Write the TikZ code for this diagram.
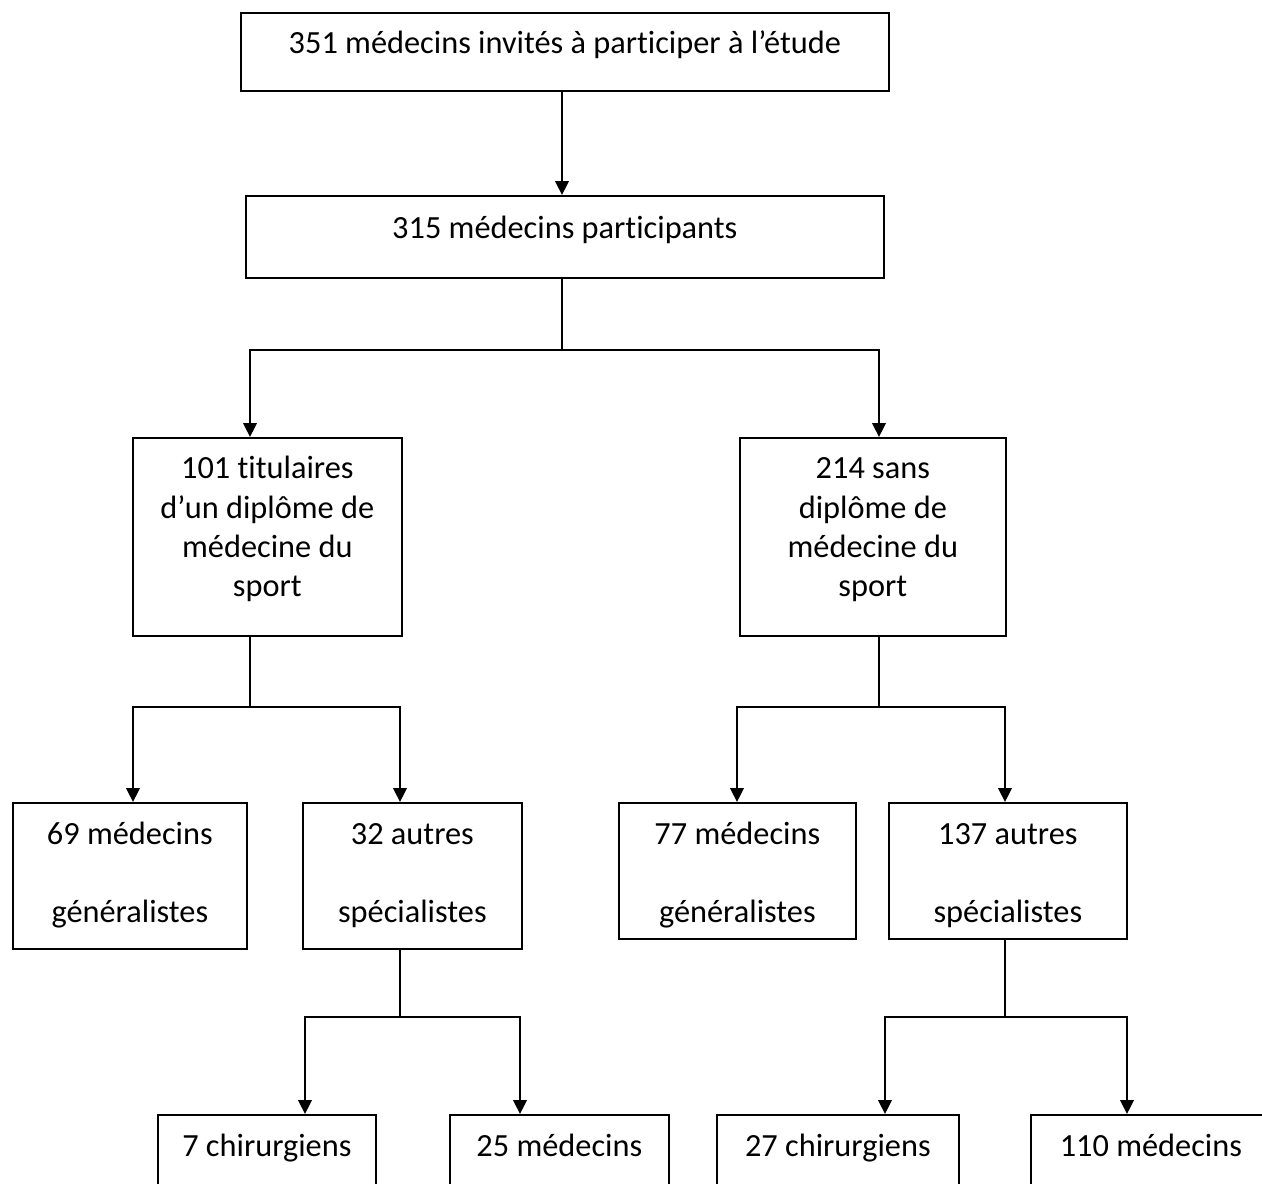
\documentclass[tikz,border=0pt]{standalone}
\usepackage{fontspec}
\setmainfont{Carlito}[Ligatures=NoCommon]
\usetikzlibrary{arrows.meta}

\begin{document}
\begin{tikzpicture}[x=0.02cm, y=-0.02cm,
  box/.style={draw, line width=1pt, inner sep=0pt, anchor=north west,
              align=flush center, font=\fontsize{18.4}{22.3}\selectfont},
  box2/.style={box, font=\fontsize{18.4}{44.4}\selectfont},
  link/.style={line width=1.3pt},
  arr/.style={link, -{Triangle[length=0.28cm, width=0.27cm]}}]
  \useasboundingbox (0,0) rectangle (1262,1184);
  \clip (0,0) rectangle (1262,1184);

  % boxes, placed by their top left corner
  \node[box, text width=12.96cm, text height=0.82cm, text depth=0.74cm]
    (invites) at (240,12) {351 médecins invités à participer à l’étude};
  \node[box, text width=12.76cm, text height=0.86cm, text depth=0.78cm]
    (participants) at (245,195) {315 médecins participants};
  \node[box, text width=5.38cm, text height=0.82cm, text depth=3.14cm]
    (diplome) at (132,437) {101 titulaires\\d’un diplôme de\\médecine du\\sport};
  \node[box, text width=5.32cm, text height=0.82cm, text depth=3.14cm]
    (sansdiplome) at (739,437) {214 sans\\diplôme de\\médecine du\\sport};
  \node[box2, text width=4.68cm, text height=0.84cm, text depth=2.08cm]
    (gen1) at (12,802) {69 médecins\\généralistes};
  \node[box2, text width=4.38cm, text height=0.84cm, text depth=2.08cm]
    (spe1) at (302,802) {32 autres\\spécialistes};
  \node[box2, text width=4.74cm, text height=0.84cm, text depth=1.88cm]
    (gen2) at (618,802) {77 médecins\\généralistes};
  \node[box2, text width=4.76cm, text height=0.84cm, text depth=1.88cm]
    (spe2) at (888,802) {137 autres\\spécialistes};
  \node[box, text width=4.36cm, text height=0.84cm, text depth=2cm]
    (chir1) at (157,1114) {7 chirurgiens};
  \node[box, text width=4.38cm, text height=0.84cm, text depth=2cm]
    (med1) at (449,1114) {25 médecins};
  \node[box, text width=4.84cm, text height=0.84cm, text depth=2cm]
    (chir2) at (716,1114) {27 chirurgiens};
  \node[box, text width=4.8cm, text height=0.84cm, text depth=2cm]
    (med2) at (1030,1114) {110 médecins};

  % junctions and arrow feet
  \coordinate (j1) at (562,350);
  \coordinate (j3) at (250,707);
  \coordinate (j4) at (879,707);
  \coordinate (j6) at (400,1017);
  \coordinate (j8) at (1005,1017);
  \foreach \n/\x in {gen1/133, spe1/400, gen2/737, spe2/1005,
                     chir1/305, med1/520, chir2/885, med2/1127}
    \coordinate (in-\n) at (\x,0);

  \draw[arr] (invites.south -| j1) -- (participants.north -| j1);
  \draw[link] (participants.south -| j1) -- (j1);
  \draw[arr] (j1) -| (diplome.north -| j3);
  \draw[arr] (j1) -| (sansdiplome.north -| j4);
  \draw[link] (diplome.south -| j3) -- (j3);
  \draw[link] (sansdiplome.south -| j4) -- (j4);
  \draw[link] (spe1.south -| j6) -- (j6);
  \draw[link] (spe2.south -| j8) -- (j8);
  \foreach \j/\n in {j3/gen1, j3/spe1, j4/gen2, j4/spe2,
                     j6/chir1, j6/med1, j8/chir2, j8/med2}
    \draw[arr] (\j) -| (\n.north -| in-\n);
\end{tikzpicture}
\end{document}
